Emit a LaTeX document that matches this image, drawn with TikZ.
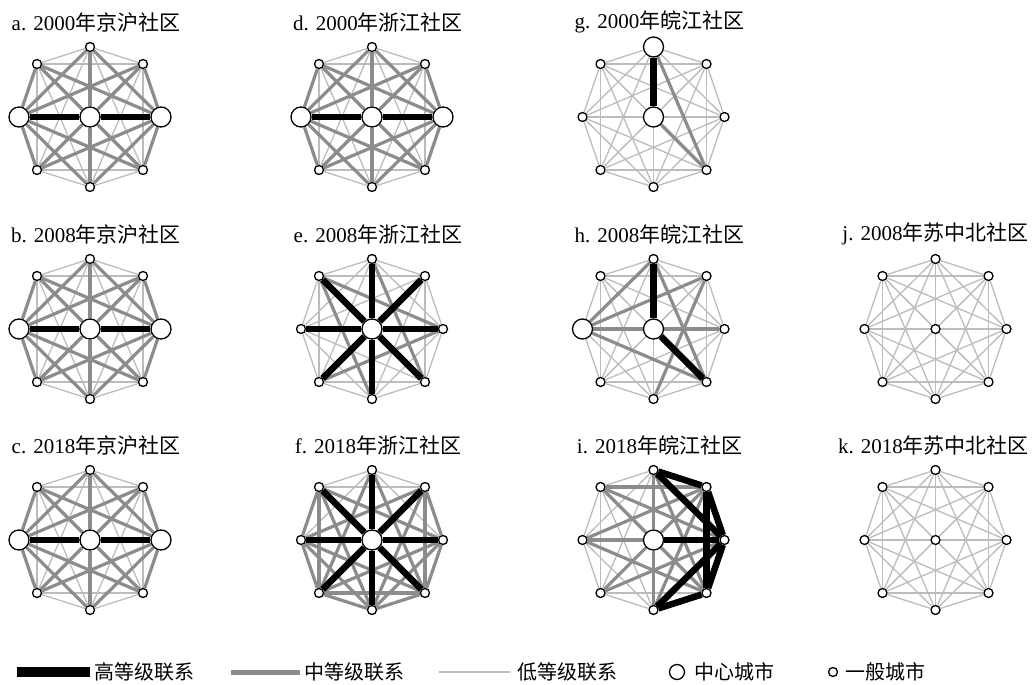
\documentclass[tikz,border=0pt]{standalone}
\usepackage{fontspec}
\setmainfont{Liberation Serif}
\newfontfamily\cjk{Noto Sans CJK SC}
\usepackage{xcolor}

\definecolor{midgray}{RGB}{140,140,140}
\definecolor{lowgray}{RGB}{188,188,188}
\pgfdeclarelayer{edges}
\pgfsetlayers{edges,main}

\tikzset{
  hub/.style={circle, draw, line width=1.3pt, fill=white, minimum size=20pt, inner sep=0pt},
  town/.style={circle, draw, line width=1.3pt, fill=white, minimum size=9pt, inner sep=0pt},
  high/.style={black, line width=6.5pt},
  mid/.style={midgray, line width=3.2pt},
  low/.style={lowgray, line width=1.3pt},
  ttl/.style={font=\fontsize{21}{24}\selectfont, inner sep=0pt},
  key/.style={font=\cjk\fontsize{20}{22}\selectfont, anchor=west, inner sep=0pt}
}

\makeatletter
\newcommand{\netpanel}[8]{%
  \begin{scope}[shift={(#2,#3)}]
    \node[ttl] (#1title) at (#8,-95) {#4};
    \foreach \k/\dx/\dy in {0/71/0,1/53/-53,2/0/-70,3/-53/-53,4/-71/0,5/-53/53,6/0/70,7/53/53,8/0/0}{%
      \edef\tmpk{,\k,}%
      \expandafter\in@\expandafter{\tmpk}{,#5,}%
      \ifin@ \node[hub] (#1\k) at (\dx,\dy) {};%
      \else \node[town] (#1\k) at (\dx,\dy) {};\fi
    }
    \begin{pgfonlayer}{edges}
      \foreach \i in {0,...,7}
        \foreach \j in {\i,...,8}
          {\ifnum\i<\j \draw[low] (#1\i) -- (#1\j);\fi}
      \if\relax\detokenize{#6}\relax\else
        \foreach \i/\j in {#6} \draw[mid] (#1\i) -- (#1\j);
      \fi
      \if\relax\detokenize{#7}\relax\else
        \foreach \i/\j in {#7} \draw[high] (#1\i) -- (#1\j);
      \fi
    \end{pgfonlayer}
  \end{scope}
}
\makeatother

\begin{document}
\begin{tikzpicture}[x=1pt, y=-1pt]
  \useasboundingbox (0,0) rectangle (1033,685);

  \netpanel{a}{90}{117}{a. 2000{\cjk 年京沪社区}}{0,4,8}
    {4/1,4/2,4/3,4/5,4/6,4/7,0/1,0/2,0/3,0/5,0/6,0/7,8/1,8/2,8/3,8/5,8/6,8/7}{4/8,8/0}{6}
  \netpanel{b}{90}{329}{b. 2008{\cjk 年京沪社区}}{0,4,8}
    {4/1,4/2,4/3,4/5,4/6,4/7,0/1,0/2,0/3,0/5,0/6,0/7,8/1,8/2,8/3,8/5,8/6,8/7}{4/8,8/0}{6}
  \netpanel{c}{90}{540}{c. 2018{\cjk 年京沪社区}}{0,4,8}
    {4/1,4/2,4/3,4/5,4/6,4/7,0/1,0/2,0/3,0/5,0/6,0/7,8/1,8/2,8/3,8/5,8/6,8/7}{4/8,8/0}{6}

  \netpanel{d}{372}{117}{d. 2000{\cjk 年浙江社区}}{0,4,8}
    {4/1,4/2,4/3,4/5,4/6,4/7,0/1,0/2,0/3,0/5,0/6,0/7,8/1,8/2,8/3,8/5,8/6,8/7}{4/8,8/0}{6}
  \netpanel{e}{372}{329}{e. 2008{\cjk 年浙江社区}}{8}
    {3/0,3/6,2/7,5/0}{8/0,8/1,8/2,8/3,8/4,8/5,8/6,8/7}{6}
  \netpanel{f}{372}{540}{f. 2018{\cjk 年浙江社区}}{8}
    {3/4,4/5,5/6,6/7,7/0,0/1,3/5,1/7,5/7,3/0,3/6,1/4,1/6,2/5,2/7,4/7,0/5,4/6,0/6}{8/0,8/1,8/2,8/3,8/4,8/5,8/6,8/7}{6}

  \netpanel{g}{653.5}{117}{g. 2000{\cjk 年皖江社区}}{2,8}
    {2/7,8/7}{2/8}{6}
  \netpanel{h}{653.5}{329}{h. 2008{\cjk 年皖江社区}}{4,8}
    {4/2,4/1,4/8,8/0,4/7,2/7,1/6}{2/8,8/7}{6}
  \netpanel{i}{653.5}{540}{i. 2018{\cjk 年皖江社区}}{8}
    {8/2,8/6,2/7,6/1,3/0,5/0,4/1,4/7,4/8,3/1,8/1,8/7,8/3,8/5}{2/1,2/0,1/0,1/7,0/7,6/7,6/0,8/0}{6}

  \netpanel{j}{935.5}{329}{j. 2008{\cjk 年苏中北社区}}{}{}{}{0}
  \netpanel{k}{935.5}{540}{k. 2018{\cjk 年苏中北社区}}{}{}{}{-2}

  \coordinate (hs) at (17,672);
  \coordinate (he) at (90,672);
  \draw[high, line width=10pt] (hs) -- (he);
  \node[key] (hk) at (94,672) {高等级联系};
  \coordinate (ms) at (231,672);
  \coordinate (me) at (300,672);
  \draw[mid, line width=5pt] (ms) -- (me);
  \node[key] (mk) at (304,672) {中等级联系};
  \coordinate (ls) at (439,672);
  \coordinate (le) at (510,672);
  \draw[low, line width=2pt] (ls) -- (le);
  \node[key] (lk) at (517,672) {低等级联系};
  \node[circle, draw, line width=1.3pt, minimum size=15pt, inner sep=0pt] (hubkey) at (677,672) {};
  \node[key] (hubtext) at (694,672) {中心城市};
  \node[town] (townkey) at (833,672) {};
  \node[key] (towntext) at (845,672) {一般城市};
\end{tikzpicture}
\end{document}
